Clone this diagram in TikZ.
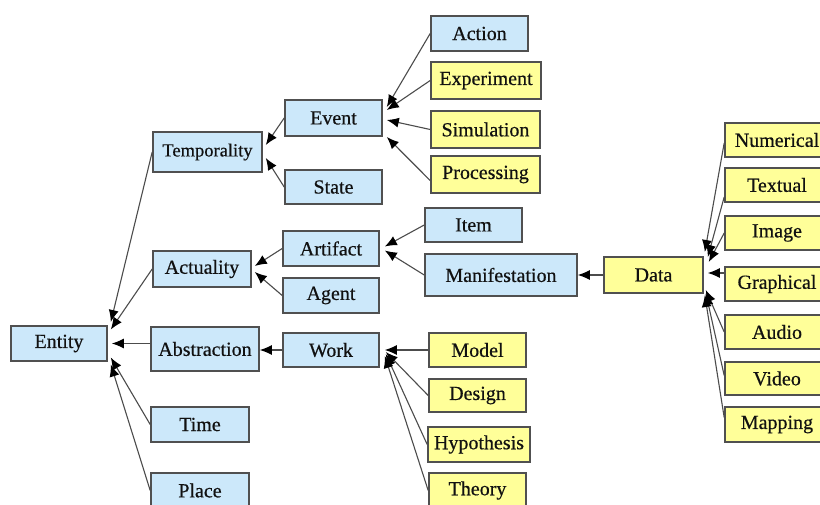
\documentclass[tikz,border=0pt]{standalone}
\usepackage{fontspec}
\setmainfont{Liberation Serif}
\newfontfamily\tnr[FakeBold=0.5]{Liberation Serif}
\usetikzlibrary{arrows.meta}
\definecolor{bluefill}{HTML}{CCE8FA}
\definecolor{yelfill}{HTML}{FFFF99}
\definecolor{edgecol}{HTML}{505050}
\definecolor{txtcol}{HTML}{111111}
\begin{document}
\begin{tikzpicture}[x=1pt,y=-1pt,
  box/.style={draw=edgecol, line width=1.6pt, inner sep=0pt, text=txtcol,
              font=\tnr\fontsize{20}{22}\selectfont},
  bbox/.style={box, fill=bluefill},
  ybox/.style={box, fill=yelfill},
  sz/.style 2 args={minimum width=#1pt, minimum height=#2pt},
  conn/.style={draw=black!70, line width=1.1pt, -{Latex[length=12pt,width=10pt,black]}}]
\useasboundingbox (0,0) rectangle (820,505);
\clip (0,0) rectangle (820,505);
\fill[white] (0,0) rectangle (820,505);
% left column
\node[bbox, sz={96}{35}] (entity) at (59,343.5) {Entity};
\node[bbox, sz={109}{40}, font=\tnr\fontsize{18.5}{20}\selectfont] (temp) at (207.5,152) {Temporality};
\node[bbox, sz={98}{36}] (actu) at (202,269) {Actuality};
\node[bbox, sz={108}{44}] (abst) at (205,349) {Abstraction};
\node[bbox, sz={98}{35}] (time) at (200,424.5) {Time};
\node[bbox, sz={98}{35}] (place) at (200,490.5) {Place};
% second column
\node[bbox, sz={97}{36}] (event) at (333.5,118) {Event};
\node[bbox, sz={97}{34}] (state) at (333.5,187) {State};
\node[bbox, sz={96}{35}] (artif) at (331,248.5) {Artifact};
\node[bbox, sz={96}{35}] (agent) at (331,295.5) {Agent};
\node[bbox, sz={96}{34}] (work) at (331,350) {Work};
% third column
\node[bbox, sz={97}{35}] (action) at (479.5,33.5) {Action};
\node[ybox, sz={110}{37}] (exper) at (486,80.5) {Experiment};
\node[ybox, sz={109}{37}] (simul) at (485.5,129.5) {Simulation};
\node[ybox, sz={109}{37}] (proc) at (485.5,174.5) {Processing};
\node[bbox, sz={97}{34}] (item) at (473.5,225) {Item};
\node[bbox, sz={152}{42}] (manif) at (501,275) {Manifestation};
\node[ybox, sz={97}{34}] (model) at (477.5,350) {Model};
\node[ybox, sz={97}{33}] (design) at (477.5,395.5) {Design};
\node[ybox, sz={102}{35}] (hypo) at (479,444.5) {Hypothesis};
\node[ybox, sz={97}{35}] (theory) at (477.5,490.5) {Theory};
% data
\node[ybox, sz={99}{36}] (data) at (653.5,275) {Data};
\node[ybox, sz={104}{34}] (numer) at (777,140) {Numerical};
\node[ybox, sz={104}{34}] (textual) at (777,185) {Textual};
\node[ybox, sz={104}{34}] (image) at (777,233) {Image};
\node[ybox, sz={104}{34}] (graph) at (777,284) {Graphical};
\node[ybox, sz={104}{34}] (audio) at (777,332) {Audio};
\node[ybox, sz={104}{33}] (video) at (777,378.5) {Video};
\node[ybox, sz={104}{35}] (mapping) at (777,424.5) {Mapping};
% connectors to Entity
\draw[conn] (temp.west) -- ([shift={(3pt,21.5pt)}]entity.east);
\draw[conn] (actu.west) -- ([shift={(3pt,14pt)}]entity.east);
\draw[conn] (abst.west |- entity.east) -- ([shift={(4pt,0pt)}]entity.east);
\draw[conn] (time.west) -- ([shift={(3pt,-14pt)}]entity.east);
\draw[conn] (place.west) -- ([shift={(3pt,-21pt)}]entity.east);
% to Temporality
\draw[conn] (event.west) -- ([shift={(3pt,7pt)}]temp.east);
\draw[conn] (state.west) -- ([shift={(3pt,-6pt)}]temp.east);
% to Event
\draw[conn] (action.west) -- ([shift={(4pt,11pt)}]event.east);
\draw[conn] (exper.west) -- ([shift={(4pt,8pt)}]event.east);
\draw[conn] (simul.west) -- ([shift={(4pt,-2pt)}]event.east);
\draw[conn] ([yshift=-6pt]proc.west) -- ([shift={(4pt,-19pt)}]event.east);
% to Actuality
\draw[conn] (artif.west) -- ([shift={(3pt,3pt)}]actu.east);
\draw[conn] (agent.west) -- ([shift={(3pt,-3pt)}]actu.east);
% to Artifact
\draw[conn] (item.west) -- ([shift={(5pt,2pt)}]artif.east);
\draw[conn] (manif.west) -- ([shift={(5pt,-2pt)}]artif.east);
% to Abstraction
\draw[conn] (work.west) -- (abst.east |- work.west);
% to Work
\draw[conn] (model.west) -- ([shift={(5pt,0pt)}]work.east);
\draw[conn] (design.west) -- ([shift={(6pt,-2pt)}]work.east);
\draw[conn] (hypo.west) -- ([shift={(6pt,-4pt)}]work.east);
\draw[conn] (theory.west) -- ([shift={(5pt,-6pt)}]work.east);
% to Manifestation
\draw[conn] (data.west) -- (manif.east);
% to Data
\draw[conn] ([yshift=-3pt]numer.west) -- ([shift={(1pt,23pt)}]data.east);
\draw[conn] ([yshift=-12pt]textual.west) -- ([shift={(4pt,18pt)}]data.east);
\draw[conn] (image.west) -- ([shift={(5pt,13pt)}]data.east);
\draw[conn] ([yshift=11pt]graph.west) -- ([shift={(4pt,2pt)}]data.east);
\draw[conn] (audio.west) -- ([shift={(2pt,-15pt)}]data.east);
\draw[conn] ([yshift=3pt]video.west) -- ([shift={(2pt,-18pt)}]data.east);
\draw[conn] ([yshift=7pt]mapping.west) -- ([shift={(1pt,-20pt)}]data.east);
\end{tikzpicture}
\end{document}
